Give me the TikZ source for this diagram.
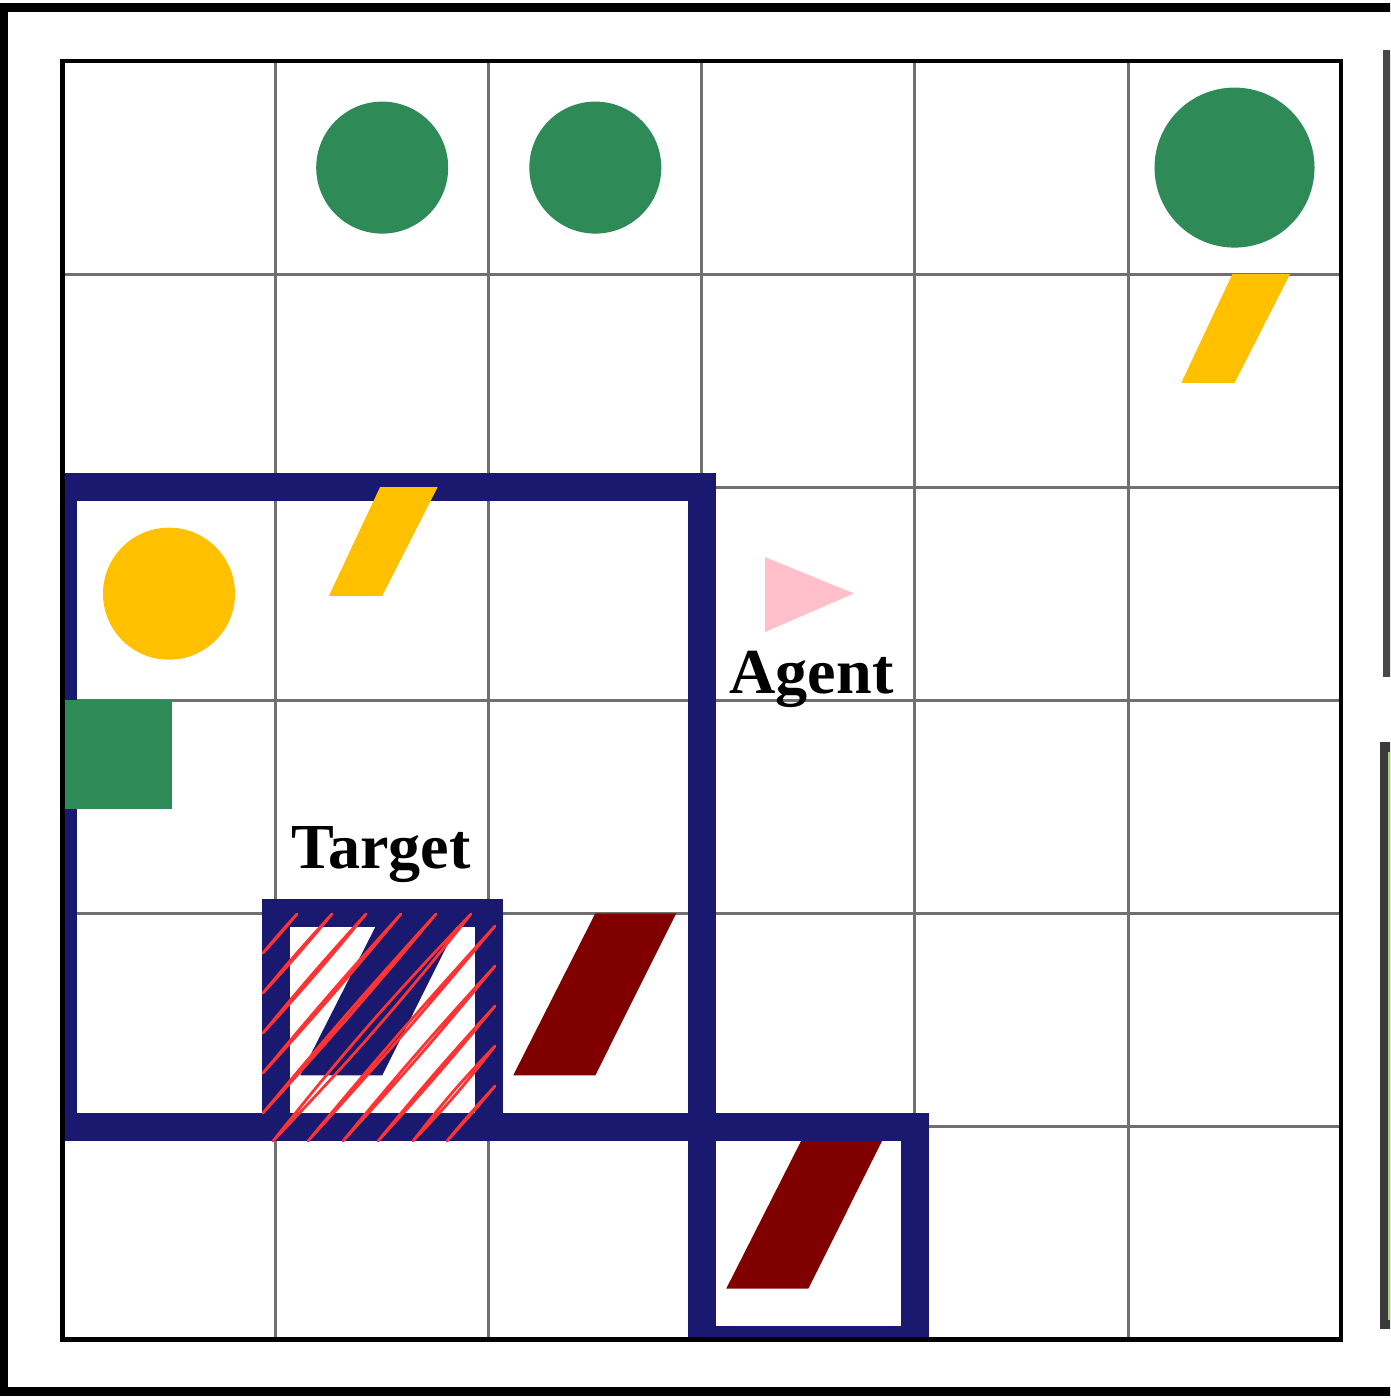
\documentclass[tikz,border=0pt]{standalone}
\usepackage{fontspec}
\setmainfont{Liberation Serif}
\definecolor{navy}{RGB}{25,25,112}
\definecolor{objgreen}{RGB}{46,139,87}
\definecolor{objyellow}{RGB}{255,192,0}
\definecolor{objmaroon}{RGB}{128,0,0}
\definecolor{agentpink}{RGB}{255,192,203}
\definecolor{gridgray}{RGB}{112,112,112}
\definecolor{hatchred}{RGB}{255,51,51}
\definecolor{bardark}{RGB}{72,72,74}
\definecolor{bardarker}{RGB}{58,58,60}
\definecolor{bargreen}{RGB}{165,210,110}
\newcommand\yelkey[2]{\fill[objyellow] ({#1+104.4},{#2}) -- ({#1+162},{#2}) -- ({#1+106.6},{#2+108.7}) -- ({#1+53.3},{#2+108.7}) -- cycle;}
\newcommand\bigkey[3]{\fill[#3] ({#1+106.6},{#2}) -- ({#1+187.5},{#2}) -- ({#1+106.6},{#2+162}) -- ({#1+24.5},{#2+162}) -- cycle;}
\newcommand\hatchstroke[3]{\draw[hatch] #1 to[bend left=#3] #2 to[bend left=#3] #1;}
\tikzset{
  gridline/.style={draw=gridgray, line width=0.6mm},
  highlight/.style={draw=navy, line width=5.6mm},
  hatch/.style={draw=hatchred, line width=0.55mm, line cap=round, line join=round},
  lbl/.style={font=\fontsize{36.5pt}{42pt}\selectfont\bfseries, inner sep=0pt, anchor=base}
}
\begin{document}
\begin{tikzpicture}[x=0.2mm,y=-0.2mm]
\useasboundingbox (0,0) rectangle (1390,1398);
\begin{scope}
\clip (0,0) rectangle (1390,1398);
% outer frame
\draw[line width=1.68mm] (4.2,7.5) rectangle (1420,1391.5);
% right-hand bars
\fill[bardark] (1383,50) rectangle (1395,677);
\fill[bardarker] (1380,742) rectangle (1395,1329);
\fill[bargreen] (1388,752) rectangle (1395,1320);
% grid lines
\foreach \i in {1,...,5} {
  \draw[gridline] ({62.5+213.1*\i},61) -- ({62.5+213.1*\i},1339.6);
  \draw[gridline] (62.5,{61+213.1*\i}) -- (1341.1,{61+213.1*\i});
}
% objects under highlights
\fill[objgreen] (382.2,167.6) circle (66);
\fill[objgreen] (595.3,167.6) circle (66);
\fill[objgreen] (1234.5,167.6) circle (80);
\fill[objyellow] (169,593.7) circle (66);
\bigkey{488.7}{913.4}{objmaroon}
\bigkey{701.8}{1126.5}{objmaroon}
\bigkey{275.6}{913.4}{navy}
\yelkey{1128}{274.1}
% highlights
\begin{scope}
\clip (62.5,61) rectangle (1341.1,1339.6);
\draw[highlight] (62.5,487.2) rectangle (701.8,1126.5);
\draw[highlight] (701.8,1126.5) rectangle (914.9,1339.6);
\draw[highlight] (275.6,913.4) rectangle (488.7,1126.5);
\end{scope}
% objects over highlights
\yelkey{275.6}{487.2}
\fill[objgreen] (62.5,700.3) rectangle (172,809.3);
% grid border
\draw[line width=0.9mm] (62.5,61) rectangle (1341.1,1339.6);
% target hatching (sketchy strokes)
\hatchstroke{(263,953)}{(297,914)}{1.5}
\hatchstroke{(263,993)}{(332,914)}{1.5}
\hatchstroke{(263,1033)}{(366,914)}{1.5}
\hatchstroke{(263,1073)}{(401,914)}{1.2}
\hatchstroke{(263,1113)}{(436,914)}{1.2}
\hatchstroke{(273,1141)}{(471,914)}{2.5}
\hatchstroke{(308,1141)}{(495,926)}{1.2}
\hatchstroke{(343,1141)}{(495,966)}{1.5}
\hatchstroke{(378,1141)}{(495,1006)}{1.5}
\hatchstroke{(413,1141)}{(495,1046)}{3}
\hatchstroke{(447,1141)}{(495,1086)}{1.5}
% labels
\node[lbl] (target) at (381,868) {Target};
\node[lbl] (agent) at (811.5,693) {Agent};
% agent
\fill[agentpink] (765,557) -- (854,593.5) -- (765,632) -- cycle;
\end{scope}
\end{tikzpicture}
\end{document}
